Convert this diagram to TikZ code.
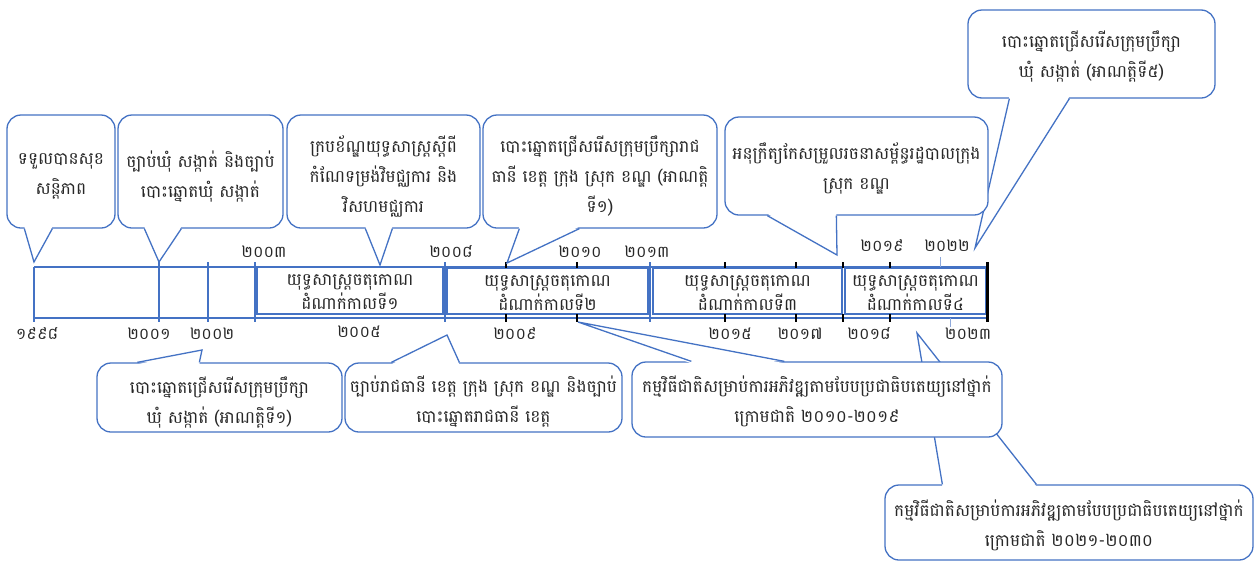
\documentclass[tikz,border=0pt]{standalone}
\usepackage{fontspec}
\newfontfamily\khmer[Script=Khmer]{Battambang}
\usetikzlibrary{calc}
\definecolor{bl}{RGB}{68,114,196}
\definecolor{lbl}{RGB}{143,170,220}
\definecolor{tx}{RGB}{40,40,40}
\tikzset{
 callbox/.style={draw=bl, line width=1.3pt, fill=white, rounded corners=14pt, inner sep=0pt},
 ctext/.style={align=center, text=tx, font={\khmer\fontsize{17}{30}\selectfont}, inner sep=0pt},
 callline/.style={draw=bl, line width=1.3pt, line join=miter},
 tl/.style={draw=bl, line width=1.3pt},
 perbox/.style={draw=bl, line width=1.3pt, inner sep=0pt},
 ptext/.style={align=center, text=tx, font={\khmer\fontsize{17}{24}\selectfont}, inner sep=0pt},
 tick/.style={draw=black, line width=2.2pt},
 yr/.style={text=tx, font={\khmer\fontsize{16}{18}\selectfont}, inner sep=0pt},
}
\newcommand{\ptrdown}[4]{%
 \fill[white] ($(#1.south west)+(#2,-2)$) -- (#4) -- ($(#1.south west)+(#3,-2)$) -- cycle;
 \draw[callline] ($(#1.south west)+(#2,0)$) -- (#4) -- ($(#1.south west)+(#3,0)$);}
\newcommand{\ptrup}[4]{%
 \fill[white] ($(#1.north west)+(#2,2)$) -- (#4) -- ($(#1.north west)+(#3,2)$) -- cycle;
 \draw[callline] ($(#1.north west)+(#2,0)$) -- (#4) -- ($(#1.north west)+(#3,0)$);}
\begin{document}
\begin{tikzpicture}[x=1pt,y=-1pt]
\useasboundingbox[fill=white] (0,0) rectangle (1260,563);
% ---------- timeline ----------
\draw[tl] (34,267) -- (987,267);
\draw[tl] (34,318) -- (987,318);
\foreach \x/\a in {34/267,159/262,208/262,255/262,445/262,650/262} \draw[tl] (\x,\a) -- (\x,322);
\node[perbox, minimum width=186, minimum height=47] (p1) at (350,290.5) {};
\node[perbox, minimum width=201, minimum height=46] (p2) at (547.5,291) {};
\node[perbox, minimum width=189, minimum height=46] (p3) at (747.5,291) {};
\node[perbox, minimum width=141, minimum height=46] (p4) at (915.5,291) {};
\node[ptext] (p1t) at ($(p1)+(0,2)$) {យុទ្ធសាស្ត្រចតុកោណ\\ដំណាក់កាលទី១};
\node[ptext] (p2t) at ($(p2)+(0,2)$) {យុទ្ធសាស្ត្រចតុកោណ\\ដំណាក់កាលទី២};
\node[ptext] (p3t) at ($(p3)+(0,2)$) {យុទ្ធសាស្ត្រចតុកោណ\\ដំណាក់កាលទី៣};
\node[ptext] (p4t) at ($(p4)+(0,2)$) {យុទ្ធសាស្ត្រចតុកោណ\\ដំណាក់កាលទី៤};
\foreach \x in {506,577,725,796,843,890} {\draw[tick] (\x,262) -- (\x,268); \draw[tick] (\x,314) -- (\x,322);}
\draw[draw=black, line width=3pt] (987,262) -- (987,322);
\draw[lbl, line width=1pt] (940,257) -- (940,267);
\draw[lbl, line width=1pt] (950,318) -- (950,327);
% years
\node[yr] (y03) at (264,252) {២០០៣};
\node[yr] (y08) at (451,252) {២០០៨};
\node[yr] (y10) at (580,252) {២០១០};
\node[yr] (y13) at (647,252) {២០១៣};
\node[yr] (y19) at (882,246) {២០១៩};
\node[yr] (y22) at (947,246) {២០២២};
\node[yr] (y98) at (37,334) {១៩៩៨};
\node[yr] (y01) at (149,334) {២០០១};
\node[yr] (y02) at (212,334) {២០០២};
\node[yr] (y05) at (359,332) {២០០៥};
\node[yr] (y09) at (515,334) {២០០៩};
\node[yr] (y15) at (730,334) {២០១៥};
\node[yr] (y17) at (800,334) {២០១៧};
\node[yr] (y18) at (869,334) {២០១៨};
\node[yr] (y23) at (968,334) {២០២៣};
% ---------- callouts ----------
\coordinate (t1) at (34,262);
\coordinate (t2) at (159,262);
\coordinate (t3) at (380,265);
\coordinate (t4) at (507,263);
\coordinate (t5) at (837,255);
\coordinate (t6) at (975,248);
\coordinate (t7) at (202,350);
\coordinate (t8) at (447,335);
\coordinate (t9) at (578,322);
\coordinate (t10) at (917,333);
\node[callbox, minimum width=108, minimum height=113] (c1) at (61,171.5) {};
\ptrdown{c1}{18}{46}{t1}
\node[ctext] (c1t) at ($(c1)+(0,5)$) {ទទួលបានសុខ\\សន្តិភាព};
\node[callbox, minimum width=165, minimum height=113] (c2) at (200.5,171.5) {};
\ptrdown{c2}{27}{64}{t2}
\node[ctext] (c2t) at ($(c2)+(0,5)$) {ច្បាប់ឃុំ សង្កាត់ និងច្បាប់\\បោះឆ្នោតឃុំ សង្កាត់};
\node[callbox, minimum width=193, minimum height=113] (c3) at (383.5,171.5) {};
\ptrdown{c3}{79}{106}{t3}
\node[ctext] (c3t) at ($(c3)+(0,5)$) {ក្របខ័ណ្ឌយុទ្ធសាស្ត្រស្តីពី\\កំណែទម្រង់វិមជ្ឈការ និង\\វិសហមជ្ឈការ};
\node[callbox, minimum width=234, minimum height=113] (c4) at (600,171.5) {};
\ptrdown{c4}{37}{97}{t4}
\node[ctext] (c4t) at ($(c4)+(0,5)$) {បោះឆ្នោតជ្រើសរើសក្រុមប្រឹក្សារាជ\\ធានី ខេត្ត ក្រុង ស្រុក ខណ្ឌ (អាណត្តិ\\ទី១)};
\node[callbox, minimum width=247, minimum height=88] (c6) at (1091.5,54) {};
\ptrdown{c6}{42}{102}{t6}
\node[ctext] (c6t) at ($(c6)+(0,3)$) {បោះឆ្នោតជ្រើសរើសក្រុមប្រឹក្សា\\ឃុំ សង្កាត់ (អាណត្តិទី៥)};
\node[callbox, minimum width=263, minimum height=98] (c5) at (856.5,166) {};
\ptrdown{c5}{43}{112}{t5}
\node[ctext] (c5t) at ($(c5)+(0,2)$) {អនុក្រឹត្យកែសម្រួលរចនាសម្ព័ន្ធរដ្ឋបាលក្រុង\\ស្រុក ខណ្ឌ};
\node[callbox, minimum width=245, minimum height=69] (c7) at (219.5,397.5) {};
\ptrup{c7}{41}{103}{t7}
\node[ctext] (c7t) at ($(c7)+(0,5)$) {បោះឆ្នោតជ្រើសរើសក្រុមប្រឹក្សា\\ឃុំ សង្កាត់ (អាណត្តិទី១)};
\node[callbox, minimum width=277, minimum height=69] (c8) at (483.5,397.5) {};
\ptrup{c8}{47}{115}{t8}
\node[ctext] (c8t) at ($(c8)+(0,4)$) {ច្បាប់រាជធានី ខេត្ត ក្រុង ស្រុក ខណ្ឌ និងច្បាប់\\បោះឆ្នោតរាជធានី ខេត្ត};
\node[callbox, minimum width=368, minimum height=75] (c10) at (1069,522.5) {};
\ptrup{c10}{58}{152}{t10}
\node[ctext] (c10t) at ($(c10)+(0,3)$) {កម្មវិធីជាតិសម្រាប់ការអភិវឌ្ឍតាមបែបប្រជាធិបតេយ្យនៅថ្នាក់\\ក្រោមជាតិ ២០២១-២០៣០};
\node[callbox, minimum width=370, minimum height=75] (c9) at (817,399.5) {};
\ptrup{c9}{60}{153}{t9}
\node[ctext] (c9t) at ($(c9)+(0,2)$) {កម្មវិធីជាតិសម្រាប់ការអភិវឌ្ឍតាមបែបប្រជាធិបតេយ្យនៅថ្នាក់\\ក្រោមជាតិ ២០១០-២០១៩};
\end{tikzpicture}
\end{document}
